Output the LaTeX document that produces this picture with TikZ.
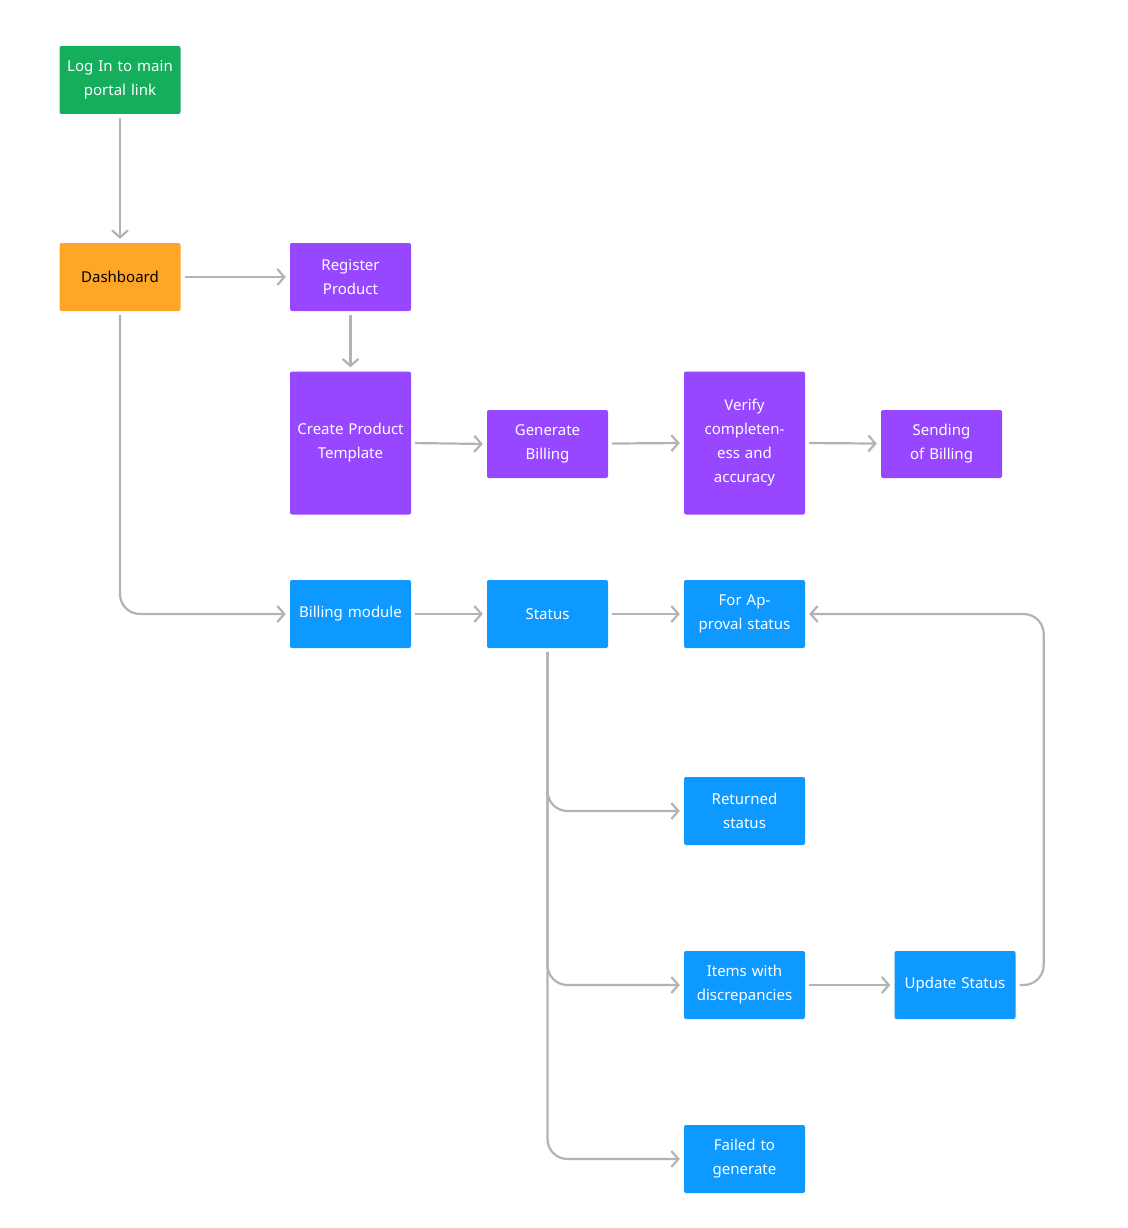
\documentclass[tikz,border=0pt]{standalone}
\usepackage{fontspec}
\setmainfont{Noto Sans}
\usetikzlibrary{arrows.meta}
\definecolor{cgreen}{HTML}{14AE5C}
\definecolor{corange}{HTML}{FFA629}
\definecolor{cpurple}{HTML}{9747FF}
\definecolor{cblue}{HTML}{0D99FF}
\definecolor{cline}{HTML}{B3B3B3}
\begin{document}
\begin{tikzpicture}[x=1pt,y=-1pt,
  box/.style={rectangle,rounded corners=2pt,minimum width=121pt,minimum height=68pt,text width=110pt,align=center,
    font=\fontsize{15}{24}\selectfont,text=white,inner sep=0pt},
  g/.style={box,fill=cgreen},
  o/.style={box,fill=corange,text=black},
  p/.style={box,fill=cpurple},
  b/.style={box,fill=cblue},
  con/.style={draw=cline,line width=2.2pt,rounded corners=20pt,-{Straight Barb[length=7pt,width=16pt,line width=2.2pt]},shorten >=4pt,shorten <=4pt}]
\useasboundingbox (0,0) rectangle (1127,1228);
\node[g] (login) at (120,80) {Log In to main portal link};
\node[o] (dash) at (120,277) {Dashboard};
\node[p] (reg) at (350.5,277) {Register Product};
\node[p,minimum height=143pt] (tmpl) at (350.5,443) {Create Product Template};
\node[p] (gen) at (547.5,444) {Generate Billing};
\node[p,minimum height=143pt,text width=90pt] (ver) at (744.5,443) {Verify completen\-ess and accuracy};
\node[p] (send) at (941.5,444) {Sending of Billing};
\node[b] (bill) at (350.5,614) {Billing module};
\node[b] (stat) at (547.5,614) {Status};
\node[b] (appr) at (744.5,614) {For Approval status};
\node[b] (ret) at (744.5,811) {Returned status};
\node[b] (items) at (744.5,985) {Items with discrepancies};
\node[b] (upd) at (955,985) {Update Status};
\node[b] (fail) at (744.5,1159) {Failed to generate};
\draw[con] (login) -- (dash);
\draw[con] (dash) -- (reg);
\draw[con] (reg) -- (tmpl);
\draw[con] (tmpl.east) -- (gen.west);
\draw[con] (gen) -- (ver.west);
\draw[con] (ver.east) -- (send);
\draw[con] (dash.south) |- (bill.west);
\draw[con] (bill) -- (stat);
\draw[con] (stat) -- (appr);
\draw[con] (stat.south) |- (ret.west);
\draw[con] (stat.south) |- (items.west);
\draw[con] (stat.south) |- (fail.west);
\draw[con] (items) -- (upd);
\draw[con] (upd.east) -- ++(28,0) |- (appr.east);
\end{tikzpicture}
\end{document}
